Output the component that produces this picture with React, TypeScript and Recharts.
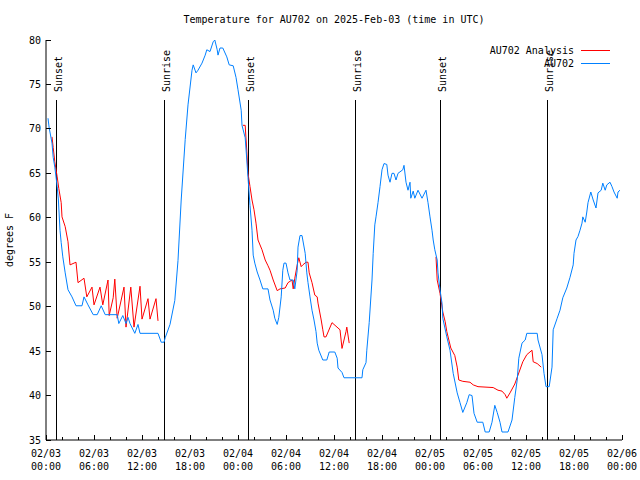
import React from 'react';
import { LineChart, Line, XAxis, YAxis, ReferenceLine, Legend } from 'recharts';

const FONT = '"DejaVu Sans Mono", monospace';

// time axis: hours since 2025-02-03 00:00 UTC
const xAllTicks = [0, 2, 4, 6, 8, 10, 12, 14, 16, 18, 20, 22, 24, 26, 28, 30, 32, 34, 36, 38, 40, 42, 44, 46, 48, 50, 52, 54, 56, 58, 60, 62, 64, 66, 68, 70, 72];
const xMajorTicks = [0, 6, 12, 18, 24, 30, 36, 42, 48, 54, 60, 66, 72];
const xTickDates = ['02/03', '02/03', '02/03', '02/03', '02/04', '02/04', '02/04', '02/04', '02/05', '02/05', '02/05', '02/05', '02/06'];
const xTickTimes = ['00:00', '06:00', '12:00', '18:00', '00:00', '06:00', '12:00', '18:00', '00:00', '06:00', '12:00', '18:00', '00:00'];
const yTicks = [35, 40, 45, 50, 55, 60, 65, 70, 75, 80];

// sunset / sunrise markers
const eventTimes = [1.25, 14.8, 25.3, 38.67, 49.3, 62.67];
const eventNames = ['Sunset', 'Sunrise', 'Sunset', 'Sunrise', 'Sunset', 'Sunrise'];

const seriesNames = ['AU702 Analysis', 'AU702'];

// AU702 observations
const obsTimes = [
  0.25, 0.4, 0.75, 0.9, 1.1, 1.4, 1.55, 1.75, 1.9, 2.1, 2.4, 2.75, 3.25, 3.75, 4.5, 4.75, 5.25, 5.9, 6.4, 6.9,
  7.4, 8.9, 9.1, 9.6, 10.0, 10.25, 10.5, 11.1, 11.5, 11.75, 14.0, 14.4, 14.75, 14.9, 15.5, 16.1, 16.5, 16.9, 17.4, 17.75,
  18.25, 18.4, 18.75, 19.0, 19.5, 19.9, 20.1, 20.5, 20.9, 21.1, 21.4, 21.5, 21.75, 22.1, 22.6, 22.9, 23.4, 23.75, 24.0, 24.4,
  24.5, 24.9, 25.1, 25.25, 25.5, 25.75, 25.9, 26.1, 26.4, 26.75, 27.1, 27.75, 28.0, 28.4, 28.6, 28.9, 29.1, 29.4, 29.6, 29.75,
  30.0, 30.25, 30.5, 30.9, 31.1, 31.4, 31.5, 31.75, 32.0, 32.1, 32.4, 32.6, 32.75, 33.0, 33.25, 33.5, 33.75, 33.9, 34.1, 34.6,
  35.1, 35.4, 36.1, 36.4, 36.5, 37.0, 37.25, 39.5, 39.6, 40.0, 40.1, 40.4, 40.75, 40.9, 41.1, 41.25, 41.5, 41.75, 42.0, 42.25,
  42.6, 42.75, 43.0, 43.25, 43.5, 43.75, 44.0, 44.6, 44.75, 45.0, 45.25, 45.5, 45.6, 45.9, 46.1, 46.5, 47.0, 47.5, 47.75, 48.0,
  48.25, 48.4, 48.6, 48.9, 49.0, 49.25, 49.5, 49.6, 50.1, 50.5, 50.9, 51.4, 51.75, 52.1, 52.6, 52.9, 53.25, 53.5, 53.9, 54.6,
  54.9, 55.4, 55.75, 56.1, 56.4, 56.75, 57.0, 57.75, 58.25, 58.6, 58.9, 59.1, 59.5, 59.9, 60.1, 61.4, 61.5, 62.0, 62.25, 62.5,
  62.9, 63.25, 63.4, 63.9, 64.25, 64.6, 65.1, 65.5, 65.9, 66.0, 66.25, 66.5, 66.75, 67.0, 67.1, 67.4, 67.6, 67.75, 68.1, 68.4,
  68.75, 69.0, 69.4, 69.6, 69.9, 70.1, 70.5, 70.75, 71.0, 71.4, 71.5, 71.75,
];
const obsTemps = [
  71.2, 70.1, 68.4, 66.8, 65.7, 63.5, 62.0, 58.6, 57.2, 55.6, 53.8, 51.9, 51.1, 50.1, 50.1, 51.1, 50.2, 49.1, 49.1, 50.1,
  49.1, 49.1, 48.1, 49.0, 48.1, 48.8, 48.1, 47.0, 48.0, 47.0, 47.0, 46.0, 46.0, 46.5, 48.0, 50.7, 55.2, 62.0, 68.8, 72.7,
  76.6, 77.2, 76.3, 76.6, 77.4, 78.3, 78.9, 78.7, 79.8, 80.0, 78.9, 78.3, 79.1, 79.1, 78.1, 77.2, 77.1, 75.8, 74.4, 72.1,
  70.4, 69.0, 66.5, 64.5, 61.4, 58.6, 55.8, 54.9, 53.9, 53.0, 52.0, 52.0, 50.75, 49.6, 48.7, 48.0, 48.8, 51.1, 54.1, 54.9,
  54.9, 53.8, 53.0, 53.0, 52.0, 54.1, 56.7, 58.0, 58.0, 57.5, 56.0, 53.8, 52.7, 51.1, 49.6, 48.5, 47.2, 45.9, 45.1, 44.0,
  44.0, 44.9, 44.9, 44.2, 43.1, 42.6, 42.0, 42.0, 42.9, 43.7, 45.1, 48.2, 53.0, 56.0, 59.2, 60.1, 61.7, 63.5, 65.4, 66.1,
  66.0, 64.8, 64.0, 65.0, 65.0, 64.25, 65.0, 65.4, 65.9, 64.0, 63.1, 64.0, 62.2, 63.0, 62.2, 63.1, 62.2, 63.1, 61.7, 60.1,
  58.6, 57.5, 56.4, 55.25, 53.8, 51.9, 50.4, 48.7, 46.6, 45.1, 42.5, 40.3, 39.2, 38.1, 39.2, 40.1, 40.0, 38.0, 37.0, 37.0,
  35.9, 35.9, 37.0, 38.9, 38.1, 37.0, 35.9, 35.9, 37.25, 39.8, 41.75, 44.2, 45.9, 46.25, 47.0, 47.0, 46.25, 44.6, 42.5, 41.0,
  41.0, 43.2, 47.4, 48.7, 49.6, 51.0, 52.1, 53.3, 54.7, 56.0, 57.5, 57.9, 58.6, 59.4, 60.1, 59.5, 60.65, 61.7, 62.9, 62.0,
  61.1, 62.8, 63.1, 63.9, 63.1, 63.7, 64.0, 63.5, 62.9, 62.2, 62.9, 63.1,
];

// AU702 analysis (null = no analysis)
const anaTimes = [
  0.75, 0.9, 1.1, 1.4, 1.6, 1.9, 2.0, 2.4, 2.75, 3.0, 3.75, 4.0, 4.75, 5.1, 5.75, 6.0, 6.75, 7.1, 7.75, 7.9,
  8.4, 8.6, 8.9, 9.75, 10.0, 10.6, 11.0, 11.75, 12.0, 12.75, 13.0, 13.75, 14.0, 19.0,
  24.6, 24.9, 25.1, 25.25, 25.5, 25.75, 26.0, 26.25, 26.5, 27.0, 27.4, 27.75, 28.0, 28.4, 28.9, 29.25, 29.9, 30.25, 30.75, 30.9,
  31.1, 31.4, 31.6, 31.9, 32.1, 32.5, 32.75, 32.9, 33.25, 33.6, 33.9, 34.0, 34.4, 34.6, 34.75, 35.0, 35.75, 36.75, 37.0, 37.25,
  37.5, 37.6, 37.9, 43.0,
  48.75, 48.9, 49.25, 49.6, 49.9, 50.1, 50.6, 51.1, 51.4, 51.6, 52.1, 53.0, 53.4, 54.0, 55.9, 56.5, 57.0, 57.4, 57.6, 58.0,
  58.6, 59.0, 59.6, 60.1, 60.75, 60.9, 61.4, 61.9,
];
const anaTemps = [
  69.1, 67.9, 66.3, 64.6, 63.3, 61.7, 60.1, 59.0, 57.3, 54.7, 55.0, 52.7, 53.2, 51.1, 52.2, 50.2, 52.2, 50.2, 53.0, 49.0,
  51.0, 53.1, 48.7, 52.2, 47.7, 52.2, 47.7, 52.3, 48.6, 50.9, 48.6, 50.9, 48.4, null,
  70.4, 70.4, 67.5, 65.0, 63.5, 62.0, 60.9, 59.4, 57.5, 56.4, 55.25, 54.6, 54.1, 53.0, 51.8, 52.0, 52.1, 52.7, 53.0, 52.0,
  53.2, 54.7, 55.5, 54.5, 54.7, 55.0, 55.0, 53.8, 52.7, 51.3, 51.1, 50.4, 48.5, 47.4, 46.6, 46.6, 48.2, 47.4, 45.3, 46.25,
  47.2, 47.7, 45.9, null,
  55.6, 53.0, 51.5, 49.4, 48.3, 47.2, 45.35, 44.5, 43.2, 41.75, 41.6, 41.5, 41.2, 41.0, 40.9, 40.6, 40.5, 40.1, 39.7, 40.3,
  41.3, 42.3, 43.8, 44.6, 45.1, 43.8, 43.6, 43.2,
];

const obsData = obsTimes.map((t, i) => ({ t, temp: obsTemps[i] }));
const anaData = anaTimes.map((t, i) => ({ t, temp: anaTemps[i] }));

const BottomTick = ({ x, y, payload }: any) => {
  const i = xMajorTicks.indexOf(payload.value);
  return (
    <g>
      <line x1={x} y1={y} x2={x} y2={y - (i >= 0 ? 5 : 3)} stroke="#000" shapeRendering="crispEdges" />
      {i >= 0 && (
        <g fontFamily={FONT} fontSize={10} fill="#000" textAnchor="middle">
          <text x={x} y={y + 17}>{xTickDates[i]}</text>
          <text x={x} y={y + 29.5}>{xTickTimes[i]}</text>
        </g>
      )}
    </g>
  );
};

const TopTick = ({ x, y, payload }: any) => {
  const major = xMajorTicks.includes(payload.value);
  return <line x1={x} y1={y} x2={x} y2={y + (major ? 5 : 3)} stroke="#000" shapeRendering="crispEdges" />;
};

const LeftTick = ({ x, y, payload }: any) => (
  <g>
    <line x1={x} y1={y} x2={x + 5} y2={y} stroke="#000" shapeRendering="crispEdges" />
    <text x={x - 5} y={y} dy={3.5} textAnchor="end" fontFamily={FONT} fontSize={10} fill="#000">
      {payload.value}
    </text>
  </g>
);

const RightTick = ({ x, y }: any) => (
  <line x1={x} y1={y} x2={x - 5} y2={y} stroke="#000" shapeRendering="crispEdges" />
);

// vertical marker up to 85% of the plot height, name just above it
const eventShape = (name: string) => (props: any) => {
  const { x1, y1, y2 } = props;
  const bottom = Math.max(y1, y2);
  const h = bottom - Math.min(y1, y2);
  const ty = bottom - 0.87 * h;
  return (
    <g>
      <line x1={x1} x2={x1} y1={bottom} y2={bottom - 0.85 * h} stroke="#000" shapeRendering="crispEdges" />
      <text x={x1} y={ty} dy={5.5} transform={`rotate(-90 ${x1} ${ty})`} fontFamily={FONT} fontSize={10} fill="#000">
        {name}
      </text>
    </g>
  );
};

const LegendBox = ({ payload }: any) => {
  const items = [...(payload || [])].sort(
    (a: any, b: any) => seriesNames.indexOf(a.value) - seriesNames.indexOf(b.value),
  );
  return (
    <div style={{ fontFamily: FONT, fontSize: 10, color: '#000' }}>
      {items.map((p: any) => (
        <div key={p.value} style={{ display: 'flex', justifyContent: 'flex-end', alignItems: 'center', height: 13 }}>
          <span style={{ lineHeight: '13px' }}>{p.value}</span>
          <span style={{ width: 29, marginLeft: 7, borderTop: `1px solid ${p.color}` }} />
        </div>
      ))}
    </div>
  );
};

export default function App() {
  return (
    <div style={{ position: 'absolute', left: 0, top: 0, width: 640, height: 480, background: '#fff' }}>
      <LineChart width={640} height={480} margin={{ top: 40, right: 18, bottom: 0, left: 0 }}>
        <XAxis
          dataKey="t"
          type="number"
          domain={[0, 72]}
          ticks={xAllTicks}
          interval={0}
          height={40}
          tickSize={0}
          tickMargin={0}
          tickLine={false}
          axisLine={{ stroke: '#000' }}
          tick={<BottomTick />}
        />
        <XAxis
          xAxisId="top"
          orientation="top"
          dataKey="t"
          type="number"
          domain={[0, 72]}
          ticks={xAllTicks}
          interval={0}
          height={0}
          tickSize={0}
          tickMargin={0}
          tickLine={false}
          axisLine={{ stroke: '#000' }}
          tick={<TopTick />}
        />
        <YAxis
          type="number"
          domain={[35, 80]}
          ticks={yTicks}
          interval={0}
          width={46}
          tickSize={0}
          tickMargin={0}
          tickLine={false}
          axisLine={{ stroke: '#000' }}
          tick={<LeftTick />}
        />
        <YAxis
          yAxisId="right"
          orientation="right"
          type="number"
          domain={[35, 80]}
          ticks={yTicks}
          interval={0}
          width={0}
          tickSize={0}
          tickMargin={0}
          tickLine={false}
          axisLine={{ stroke: '#000' }}
          tick={<RightTick />}
        />
        {eventTimes.map((t, i) => (
          <ReferenceLine key={i} x={t} shape={eventShape(eventNames[i])} />
        ))}
        <Line
          data={anaData}
          dataKey="temp"
          name={seriesNames[0]}
          type="linear"
          stroke="#ff0000"
          strokeWidth={1}
          dot={false}
          activeDot={false}
          isAnimationActive={false}
        />
        <Line
          data={obsData}
          dataKey="temp"
          name={seriesNames[1]}
          type="linear"
          stroke="#0080ff"
          strokeWidth={1}
          dot={false}
          activeDot={false}
          isAnimationActive={false}
        />
        <Legend
          layout="vertical"
          align="center"
          verticalAlign="middle"
          content={<LegendBox />}
          wrapperStyle={{ top: 43.5, left: 0, width: 610, height: 26 }}
        />
      </LineChart>
      <div
        style={{
          position: 'absolute', left: 46, top: 14, width: 576, textAlign: 'center',
          fontFamily: FONT, fontSize: 10, lineHeight: '12px', color: '#000',
        }}
      >
        Temperature for AU702 on 2025-Feb-03 (time in UTC)
      </div>
      <div
        style={{
          position: 'absolute', left: 10, top: 240, transform: 'translate(-50%, -50%) rotate(-90deg)',
          whiteSpace: 'nowrap', fontFamily: FONT, fontSize: 10, lineHeight: '12px', color: '#000',
        }}
      >
        degrees F
      </div>
    </div>
  );
}
